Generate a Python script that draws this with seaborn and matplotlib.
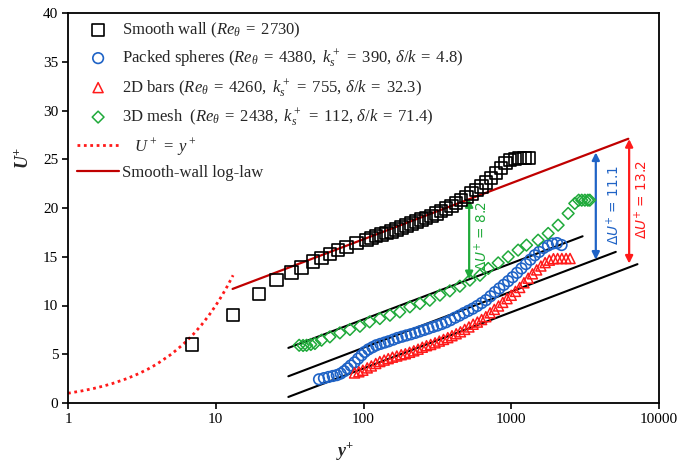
import matplotlib
matplotlib.use("Agg")
import matplotlib.pyplot as plt
import matplotlib.ticker as mticker
import seaborn as sns

# ---------------- data ----------------
smooth_x = [6.9, 13.1, 19.6, 25.8, 32.5, 38.1, 45.6, 52, 59.2, 67.5, 76.9, 89.7, 104.7, 113, 122,
            132, 143, 155, 167, 181, 195, 211, 228, 247, 266, 288, 311, 336, 363, 393,
            424, 459, 497, 537, 580, 627, 677, 730, 790, 850, 915, 985, 1060, 1140, 1230, 1320]
smooth_y = [6.0, 9.0, 11.2, 12.6, 13.4, 13.9, 14.5, 14.9, 15.3, 15.7, 16.0, 16.4, 16.7, 16.9, 17.1,
            17.3, 17.45, 17.6, 17.8, 18.0, 18.2, 18.4, 18.6, 18.8, 19.0, 19.2, 19.45, 19.7, 19.95, 20.2,
            20.5, 20.8, 21.15, 21.5, 21.85, 22.2, 22.6, 23.1, 23.6, 24.1, 24.6, 24.9, 25.05, 25.1, 25.1, 25.1]

spheres_x = [50, 54, 58, 62, 66, 70, 74, 78, 82, 87, 92, 97, 102, 108, 115, 122, 130, 139, 148, 159,
             170, 182, 195, 209, 224, 240, 257, 275, 295, 316, 338, 362, 388, 416, 446, 478, 512, 549,
             588, 630, 675, 723, 775, 830, 890, 953, 1021, 1094, 1172, 1256, 1346, 1442, 1545, 1655,
             1773, 1900, 2040, 2190]
spheres_y = [2.43, 2.55, 2.67, 2.77, 2.86, 3.02, 3.26, 3.55, 3.85, 4.17, 4.55, 4.9, 5.24, 5.5, 5.72,
             5.92, 6.06, 6.2, 6.33, 6.5, 6.67, 6.8, 6.93, 7.05, 7.19, 7.34, 7.49, 7.64, 7.8, 7.94, 8.1,
             8.28, 8.5, 8.75, 8.97, 9.22, 9.45, 9.68, 9.95, 10.25, 10.55, 10.95, 11.37, 11.75, 12.12,
             12.5, 12.9, 13.35, 13.8, 14.25, 14.7, 15.15, 15.5, 15.9, 16.15, 16.35, 16.4, 16.2]

bars_x = [87, 93, 99, 106, 113, 121, 129, 138, 147, 157, 168, 180, 192, 205, 219, 234, 250, 267, 285,
          305, 326, 348, 372, 397, 424, 453, 484, 517, 552, 590, 630, 673, 719, 768, 820, 876, 936,
          1000, 1068, 1141, 1219, 1302, 1391, 1486, 1587, 1695, 1810, 1930, 2060, 2200, 2350, 2500]
bars_y = [3.08, 3.2, 3.36, 3.6, 3.8, 4.05, 4.25, 4.4, 4.55, 4.7, 4.82, 4.95, 5.05, 5.2, 5.35, 5.52,
          5.72, 5.88, 6.0, 6.17, 6.35, 6.52, 6.7, 6.9, 7.1, 7.3, 7.55, 7.8, 8.08, 8.3, 8.56, 8.85, 9.25,
          9.6, 9.95, 10.32, 10.7, 11.05, 11.45, 11.85, 12.33, 12.8, 13.25, 13.65, 14.05, 14.4, 14.65,
          14.8, 14.82, 14.82, 14.82, 14.82]

mesh_x = [36.7, 39, 41.2, 44, 46.9, 52, 59.2, 69.2, 80.9, 94.6, 110, 129, 151, 176, 206, 241, 281,
          329, 384, 449, 525, 614, 699, 816, 953, 1113, 1268, 1520, 1778, 2076, 2427, 2692, 2860,
          3000, 3150, 3300, 3400]
mesh_y = [5.92, 5.9, 5.92, 6.0, 6.1, 6.44, 6.78, 7.19, 7.54, 7.87, 8.32, 8.66, 9.0, 9.34, 9.86, 10.2,
          10.54, 11.06, 11.5, 11.98, 12.6, 13.1, 13.8, 14.37, 14.99, 15.68, 16.19, 16.7, 17.39, 18.24,
          19.44, 20.47, 20.8, 20.8, 20.8, 20.8, 20.8]

# viscous sublayer U+ = y+
visc_pts = [1, 1.25, 1.5, 1.75, 2, 2.5, 3, 3.5, 4, 5, 6, 7, 8, 9, 10, 11, 12, 13.1]

# smooth-wall log-law (end points)
loglaw_x = [13, 6200]
loglaw_y = [11.7, 27.1]

# shifted rough-wall log-laws (end points)
shift_top_x, shift_top_y = [31, 3040], [5.65, 17.1]
shift_mid_x, shift_mid_y = [31, 5100], [2.74, 15.5]
shift_bot_x, shift_bot_y = [31, 7150], [0.62, 14.24]

# ΔU+ arrows: x position, bottom, top, label, label x, label y
arrow_x = [519, 3735, 6280]
arrow_lo = [12.7, 14.7, 14.3]
arrow_hi = [20.9, 25.7, 27.07]
arrow_lab = ["8.2", "11.1", "13.2"]
arrow_lab_x = [630, 4900, 7600]
arrow_lab_y = [17.1, 20.3, 20.9]

x_ticks = [1, 10, 100, 1000, 10000]
y_ticks = [0, 5, 10, 15, 20, 25, 30, 35, 40]

labels = [
    r"Smooth wall ($Re_\theta\;=\;2730$)",
    r"Packed spheres ($Re_\theta\;=\;4380,\ k_s^+\;=\;390,\,\delta/k\;=\;4.8$)",
    r"2D bars ($Re_\theta\;=\;4260,\ k_s^+\;=\;755,\,\delta/k\;=\;32.3$)",
    r"3D mesh  ($Re_\theta\;=\;2438,\ k_s^+\;=\;112,\,\delta/k\;=\;71.4$)",
    r"   $U^+\;=\;y^+$",
    "Smooth-wall log-law",
]

# ---------------- style ----------------
sns.set_theme(style="ticks")
plt.rcParams["font.family"] = ["Liberation Serif", "DejaVu Serif"]
plt.rcParams["mathtext.fontset"] = "custom"
plt.rcParams["mathtext.rm"] = "Liberation Serif"
plt.rcParams["mathtext.it"] = "Liberation Serif:italic"
plt.rcParams["mathtext.bf"] = "Liberation Serif:bold"
plt.rcParams["mathtext.bfit"] = "Liberation Serif:bold:italic"

fig = plt.figure(figsize=(6.78, 4.63), dpi=100)
ax = fig.add_axes([68 / 678, 60 / 463, (659 - 68) / 678, (403 - 13) / 463])

blue = "#1f63c6"
red = "#ff1a1a"
green = "#1faa3a"
darkred = "#c00000"

sns.scatterplot(x=smooth_x, y=smooth_y, marker="s", s=80, facecolors="none", edgecolors="black",
                linewidths=1.2, ax=ax, label=labels[0], zorder=4)
sns.scatterplot(x=spheres_x, y=spheres_y, marker="o", s=58, facecolors="none", edgecolors=blue,
                linewidths=1.2, ax=ax, label=labels[1], zorder=4)
sns.scatterplot(x=bars_x, y=bars_y, marker="^", s=52, facecolors="none", edgecolors=red,
                linewidths=1.1, ax=ax, label=labels[2], zorder=4)
sns.scatterplot(x=mesh_x, y=mesh_y, marker="D", s=36, facecolors="none", edgecolors=green,
                linewidths=1.1, ax=ax, label=labels[3], zorder=4)

sns.lineplot(x=visc_pts, y=visc_pts, color=red, linestyle=(0, (1, 1.3)), linewidth=2.0, ax=ax,
             label=labels[4], sort=False, estimator=None)
sns.lineplot(x=loglaw_x, y=loglaw_y, color=darkred, linewidth=1.6, ax=ax, label=labels[5],
             sort=False, estimator=None)
for xs, ys in [(shift_top_x, shift_top_y), (shift_mid_x, shift_mid_y), (shift_bot_x, shift_bot_y)]:
    sns.lineplot(x=xs, y=ys, color="black", linewidth=1.5, ax=ax, sort=False, estimator=None,
                 legend=False)

for xa, lo, hi, lab, lx, ly, c in zip(arrow_x, arrow_lo, arrow_hi, arrow_lab, arrow_lab_x,
                                      arrow_lab_y, [green, blue, red]):
    ax.annotate("", xy=(xa, hi), xytext=(xa, lo),
                arrowprops=dict(arrowstyle="<|-|>", color=c, lw=1.6, mutation_scale=11,
                                shrinkA=0, shrinkB=0))
    ax.text(lx, ly, r"$\Delta U^{+}$ = " + lab, rotation=90, color=c, fontsize=9.8,
            ha="center", va="center", family=["DejaVu Sans"], math_fontfamily="dejavusans")

ax.set_xscale("log")
ax.set_xlim(1, 10000)
ax.set_ylim(0, 40)
ax.xaxis.set_major_locator(mticker.FixedLocator(x_ticks))
ax.xaxis.set_major_formatter(mticker.FixedFormatter([str(t) for t in x_ticks]))
ax.xaxis.set_minor_locator(mticker.NullLocator())
ax.set_yticks(y_ticks)
ax.tick_params(axis="both", labelsize=11, direction="out", length=4, width=1.2, color="black",
               labelcolor="black", pad=3)
for sp in ax.spines.values():
    sp.set_visible(True)
    sp.set_color("black")
    sp.set_linewidth(1.3)

ax.set_xlabel(r"$\mathbfit{y}^{\mathbf{+}}$", fontsize=13)
ax.set_ylabel(r"$\mathbfit{U}^{\mathbf{+}}$", fontsize=13)
ax.xaxis.set_label_coords((345 - 68) / 591, (403 - 440) / 390)
ax.yaxis.set_label_coords((32 - 68) / 591, (403 - 158) / 390)

ax.legend(loc="upper left", bbox_to_anchor=(0.003, 1.0), frameon=False, fontsize=12,
          handlelength=2.5, handletextpad=0.2, labelspacing=0.45, borderaxespad=0.2,
          borderpad=0.25, markerscale=1.0)

fig.savefig("out.png", dpi=100)
